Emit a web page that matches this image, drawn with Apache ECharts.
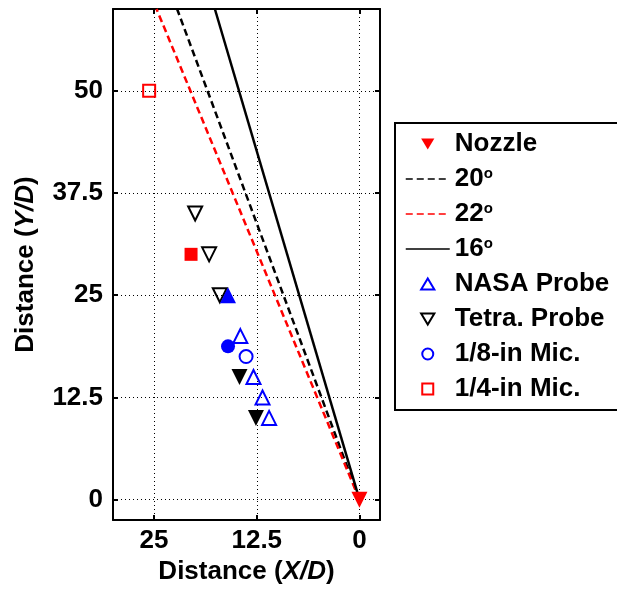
<!DOCTYPE html>
<html>
<head>
<meta charset="utf-8">
<script src="https://cdn.jsdelivr.net/npm/echarts@6/dist/echarts.min.js"></script>
<style>
  html, body { margin: 0; padding: 0; background: #fff; }
  #chart { width: 617px; height: 590px; }
</style>
</head>
<body>
<div id="chart"></div>
<script>
// Tick positions shared by both axes
const xTicks = [0, 12.5, 25];
const yTicks = [0, 12.5, 25, 37.5, 50];

// Nozzle exit
const nozzle = [[0, 0]];

// Spreading-angle lines from the nozzle (X/D, Y/D)
const line20 = [[0, 0], [22.2, 60]];
const line22 = [[0, 0], [24.7, 60]];
const line16 = [[0, 0], [17.6, 60]];

// Measurement locations (open markers)
const nasaProbe = [[14.5, 20], [12.9, 15], [11.8, 12.5], [11.0, 10]];
const tetraProbe = [[20.0, 35], [18.3, 30], [17.0, 25]];
const micEighth = [[13.8, 17.5]];
const micQuarter = [[25.6, 50]];

// Measurement locations (filled markers)
const nasaProbeFilled = [[16.0, 25]];
const tetraProbeFilled = [[14.6, 15], [12.6, 10]];
const micEighthFilled = [[16.0, 18.75]];
const micQuarterFilled = [[20.5, 30]];

const FONT = 'Liberation Sans, Arial, Helvetica, sans-serif';
const chart = echarts.init(document.getElementById('chart'), null, { renderer: 'canvas' });

const gridDot = { show: true, lineStyle: { color: '#000', type: [1, 3], width: 1 } };
const boxAxisLine = { show: true, onZero: false, lineStyle: { color: '#000', width: 2 } };

// legend glyphs (path symbols keep their aspect inside the wide legend slot)
const ICON_UP = 'path://M0,10L6,0L12,10Z';
const ICON_DOWN = 'path://M0,0L12,0L6,10Z';
const ICON_SQUARE = 'path://M0,0L10,0L10,10L0,10Z';

function openMarker(name, data, symbol, color, size, rotate) {
  return {
    name, type: 'scatter', data, symbol, symbolSize: size, symbolRotate: rotate || 0,
    itemStyle: { color: 'rgba(255,255,255,0)', borderColor: color, borderWidth: 2, opacity: 1 },
    z: 3
  };
}
function filledMarker(name, data, symbol, color, size, rotate, z) {
  return {
    name, type: 'scatter', data, symbol, symbolSize: size, symbolRotate: rotate || 0,
    itemStyle: { color, opacity: 1 }, z: z || 4
  };
}

// legend entry for an angle line: line only, no marker
function lineEntry(name) {
  return { name, itemStyle: { color: 'rgba(0,0,0,0)', borderWidth: 0, opacity: 0 }, lineStyle: { width: 1.5 } };
}

const sup = { fontSize: 15, fontWeight: 'bold', fontFamily: FONT, color: '#000', verticalAlign: 'top', lineHeight: 25, padding: [0, 0, 8, 0] };

chart.setOption({
  animation: false,
  backgroundColor: '#fff',
  grid: { left: 113, right: 237, top: 9, bottom: 67, show: false },
  legend: {
    left: 395, top: 123, orient: 'vertical',
    padding: [8, 30, 8, 10],
    itemWidth: 44, itemHeight: 11, itemGap: 9,
    symbolKeepAspect: true,
    borderColor: '#000', borderWidth: 2, backgroundColor: '#fff',
    data: [
      { name: 'Nozzle', icon: ICON_DOWN },
      lineEntry('20'), lineEntry('22'), lineEntry('16'),
      { name: 'NASA Probe', icon: ICON_UP },
      { name: 'Tetra. Probe', icon: ICON_DOWN },
      { name: '1/8-in Mic.', icon: 'circle' },
      { name: '1/4-in Mic.', icon: ICON_SQUARE }
    ],
    formatter: n => (['20', '22', '16'].includes(n) ? '{t|' + n + '}{s|o}' : '{t|' + n + '}'),
    textStyle: {
      fontFamily: FONT, fontSize: 26, fontWeight: 'bold', color: '#000', lineHeight: 25,
      rich: { t: { fontFamily: FONT, fontSize: 26, fontWeight: 'bold', color: '#000', lineHeight: 25 }, s: sup }
    }
  },
  xAxis: [
    {
      type: 'value', inverse: true, min: -2.5, max: 30, position: 'bottom',
      name: 'Distance ({i|X/D})', nameLocation: 'middle', nameGap: 36,
      nameTextStyle: {
        fontFamily: FONT, fontSize: 26, fontWeight: 'bold', color: '#000',
        rich: { i: { fontFamily: FONT, fontSize: 26, fontWeight: 'bold', fontStyle: 'italic', color: '#000' } }
      },
      axisLine: boxAxisLine,
      axisTick: { show: true, inside: true, length: 5, customValues: xTicks, lineStyle: { color: '#000', width: 2 } },
      axisLabel: { customValues: xTicks, margin: 8, fontFamily: FONT, fontSize: 26, fontWeight: 'bold', color: '#000' },
      splitLine: gridDot
    },
    {
      type: 'value', inverse: true, min: -2.5, max: 30, position: 'top',
      axisLine: boxAxisLine,
      axisTick: { show: true, inside: true, length: 5, customValues: xTicks, lineStyle: { color: '#000', width: 2 } },
      axisLabel: { show: false }, splitLine: { show: false }
    }
  ],
  yAxis: [
    {
      type: 'value', min: -2.5, max: 60, position: 'left',
      name: 'Distance ({i|Y/D})', nameLocation: 'middle', nameGap: 74, nameRotate: 90,
      nameTextStyle: {
        fontFamily: FONT, fontSize: 26, fontWeight: 'bold', color: '#000',
        rich: { i: { fontFamily: FONT, fontSize: 26, fontWeight: 'bold', fontStyle: 'italic', color: '#000' } }
      },
      axisLine: boxAxisLine,
      axisTick: { show: true, inside: true, length: 5, customValues: yTicks, lineStyle: { color: '#000', width: 2 } },
      axisLabel: { customValues: yTicks, margin: 10, fontFamily: FONT, fontSize: 26, fontWeight: 'bold', color: '#000' },
      splitLine: gridDot
    },
    {
      type: 'value', min: -2.5, max: 60, position: 'right',
      axisLine: boxAxisLine,
      axisTick: { show: true, inside: true, length: 5, customValues: yTicks, lineStyle: { color: '#000', width: 2 } },
      axisLabel: { show: false }, splitLine: { show: false }
    }
  ],
  series: [
    { name: '20', type: 'line', data: line20, symbol: 'none', clip: true, lineStyle: { color: '#000', width: 2.5, type: [7, 4] }, itemStyle: { color: '#000' }, z: 2 },
    { name: '22', type: 'line', data: line22, symbol: 'none', clip: true, lineStyle: { color: '#ff0000', width: 2.5, type: [7, 4] }, itemStyle: { color: '#ff0000' }, z: 2 },
    { name: '16', type: 'line', data: line16, symbol: 'none', clip: true, lineStyle: { color: '#000', width: 2.5, type: 'solid' }, itemStyle: { color: '#000' }, z: 2 },
    filledMarker('Nozzle', nozzle, 'triangle', '#ff0000', 16, 180, 5),
    openMarker('NASA Probe', nasaProbe, 'triangle', '#0000ff', 14),
    openMarker('Tetra. Probe', tetraProbe, 'triangle', '#000', 14, 180),
    openMarker('1/8-in Mic.', micEighth, 'circle', '#0000ff', 13),
    openMarker('1/4-in Mic.', micQuarter, 'rect', '#ff0000', 12),
    filledMarker('NASA Probe (fill)', nasaProbeFilled, 'triangle', '#0000ff', 16),
    filledMarker('Tetra. Probe (fill)', tetraProbeFilled, 'triangle', '#000', 16, 180),
    filledMarker('1/8-in Mic. (fill)', micEighthFilled, 'circle', '#0000ff', 14),
    filledMarker('1/4-in Mic. (fill)', micQuarterFilled, 'rect', '#ff0000', 13)
  ]
});
</script>
</body>
</html>
